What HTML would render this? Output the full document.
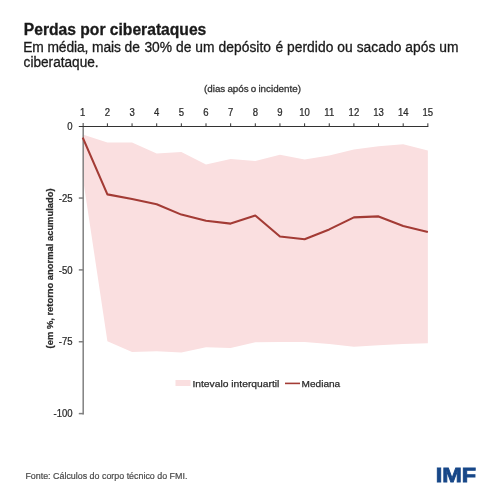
<!DOCTYPE html>
<html><head><meta charset="utf-8">
<style>
html,body{margin:0;padding:0;background:#fff;width:500px;height:500px;overflow:hidden}
svg{display:block;will-change:transform;font-family:"Liberation Sans",sans-serif}
</style></head>
<body>
<svg width="500" height="500" viewBox="0 0 500 500">
<rect width="500" height="500" fill="#fff"/>
<text x="23.8" y="34.8" font-size="15.6" font-weight="bold" fill="#1a1a1a" stroke="#1a1a1a" stroke-width="0.3" textLength="182.5" lengthAdjust="spacingAndGlyphs">Perdas por ciberataques</text>
<g font-size="13.8" fill="#1a1a1a" stroke="#1a1a1a" stroke-width="0.3" lengthAdjust="spacingAndGlyphs">
<text x="23.205500021517263" y="51.5" textLength="116.69174848396091">Em média, mais de</text>
<text x="144.40189363889638" y="51.5" textLength="126.59972161149379">30% de um depósito</text>
<text x="275.39712513088216" y="51.5" textLength="183.2035422206611">é perdido ou sacado após um</text>
</g>
<text x="23.6" y="66.9" font-size="13.8" fill="#1a1a1a" stroke="#1a1a1a" stroke-width="0.3" textLength="75" lengthAdjust="spacingAndGlyphs">ciberataque.</text>
<text x="204" y="91.8" font-size="9.9" fill="#333" stroke="#333" stroke-width="0.3" word-spacing="-0.6" textLength="97" lengthAdjust="spacingAndGlyphs">(dias após o incidente)</text>
<polygon fill="#fadfe0" points="82.75,134.4 107.40,142.4 132.05,142.4 156.70,153.4 181.35,151.9 206.00,164.5 230.65,159.1 255.30,160.9 279.95,154.8 304.60,159.6 329.25,155.5 353.90,149.4 378.55,146.3 403.20,144.3 427.85,150.4 427.85,343.2 403.20,344 378.55,345.2 353.90,346.8 329.25,344 304.60,342 279.95,342 255.30,342.2 230.65,348 206.00,347.2 181.35,352.4 156.70,351.2 132.05,352 107.40,341.2 82.75,177"/>
<g stroke="#808080" stroke-width="1.5" fill="none">
<line x1="83.2" y1="123" x2="83.2" y2="414.4"/>
<line x1="78.8" y1="198.05" x2="83.5" y2="198.05"/><line x1="78.8" y1="269.90" x2="83.5" y2="269.90"/><line x1="78.8" y1="341.75" x2="83.5" y2="341.75"/><line x1="78.8" y1="413.60" x2="83.5" y2="413.60"/>
</g>
<g stroke="#333" stroke-width="1" fill="none">
<line x1="78.8" y1="126.5" x2="428.35" y2="126.5"/>
<path d="M107.40,123.3v3 M132.05,123.3v3 M156.70,123.3v3 M181.35,123.3v3 M206.00,123.3v3 M230.65,123.3v3 M255.30,123.3v3 M279.95,123.3v3 M304.60,123.3v3 M329.25,123.3v3 M353.90,123.3v3 M378.55,123.3v3 M403.20,123.3v3 M427.85,123.3v3"/>
</g>
<polyline fill="none" stroke="#a33b35" stroke-width="2.1" stroke-linejoin="round" points="82.75,137.6 107.40,194.4 132.05,199 156.70,204.2 181.35,214.6 206.00,220.8 230.65,223.6 255.30,215.5 279.95,236.5 304.60,239.2 329.25,229.4 353.90,217.4 378.55,216.4 403.20,226 427.85,232"/>
<g font-size="10.6" fill="#2b2b2b" stroke="#2b2b2b" stroke-width="0.25" text-anchor="middle"><text transform="translate(82.75,116.3) scale(0.9,1)">1</text><text transform="translate(107.40,116.3) scale(0.9,1)">2</text><text transform="translate(132.05,116.3) scale(0.9,1)">3</text><text transform="translate(156.70,116.3) scale(0.9,1)">4</text><text transform="translate(181.35,116.3) scale(0.9,1)">5</text><text transform="translate(206.00,116.3) scale(0.9,1)">6</text><text transform="translate(230.65,116.3) scale(0.9,1)">7</text><text transform="translate(255.30,116.3) scale(0.9,1)">8</text><text transform="translate(279.95,116.3) scale(0.9,1)">9</text><text transform="translate(304.60,116.3) scale(0.9,1)">10</text><text transform="translate(329.25,116.3) scale(0.9,1)">11</text><text transform="translate(353.90,116.3) scale(0.9,1)">12</text><text transform="translate(378.55,116.3) scale(0.9,1)">13</text><text transform="translate(403.20,116.3) scale(0.9,1)">14</text><text transform="translate(427.85,116.3) scale(0.9,1)">15</text></g>
<g font-size="10.6" fill="#2b2b2b" stroke="#2b2b2b" stroke-width="0.25" text-anchor="end"><text transform="translate(72.6,129.80) scale(0.9,1)">0</text><text transform="translate(72.6,201.65) scale(0.9,1)">-25</text><text transform="translate(72.6,273.50) scale(0.9,1)">-50</text><text transform="translate(72.6,345.35) scale(0.9,1)">-75</text><text transform="translate(72.6,417.20) scale(0.9,1)">-100</text></g>
<text transform="translate(52.6,348.4) rotate(-90)" font-size="9.4" font-weight="bold" fill="#2b2b2b" stroke="#2b2b2b" stroke-width="0.25" textLength="160" lengthAdjust="spacingAndGlyphs">(em %, retorno anormal acumulado)</text>
<rect x="175.5" y="380" width="15" height="6" fill="#fadfe0"/>
<text x="192.4" y="387" font-size="9.8" fill="#2b2b2b" stroke="#2b2b2b" stroke-width="0.25" textLength="87" lengthAdjust="spacingAndGlyphs">Intevalo interquartil</text>
<line x1="285" y1="383.4" x2="300" y2="383.4" stroke="#a33b35" stroke-width="1.6"/>
<text x="301.6" y="387" font-size="9.7" fill="#2b2b2b" stroke="#2b2b2b" stroke-width="0.25" textLength="38.6" lengthAdjust="spacingAndGlyphs">Mediana</text>
<text x="25.4" y="479.2" font-size="8.9" fill="#4a4a4a" stroke="#4a4a4a" stroke-width="0.2" textLength="162" lengthAdjust="spacingAndGlyphs">Fonte: Cálculos do corpo técnico do FMI.</text>
<text x="435.7" y="482.4" font-size="19.8" font-weight="bold" fill="#174788" stroke="#174788" stroke-width="0.8" textLength="40.4" lengthAdjust="spacingAndGlyphs">IMF</text>
</svg>
</body></html>
